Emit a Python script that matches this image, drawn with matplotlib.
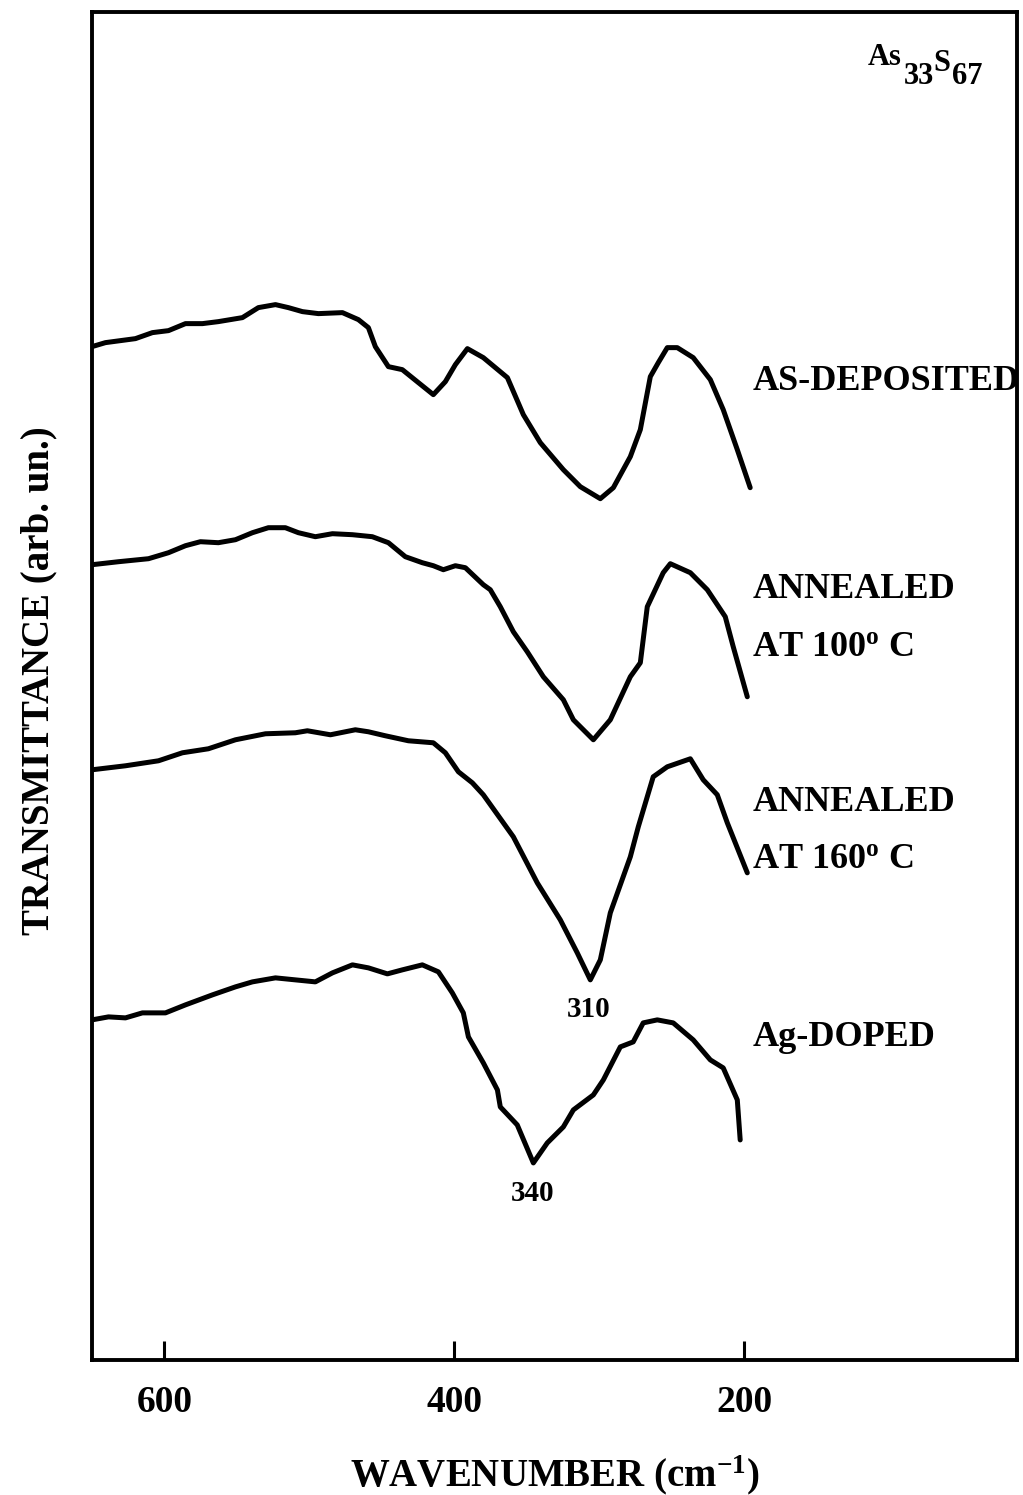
import matplotlib.pyplot as plt

plt.rcParams['font.family'] = 'Liberation Serif'
plt.rcParams['font.weight'] = 'bold'
plt.rcParams['mathtext.fontset'] = 'custom'
plt.rcParams['mathtext.rm'] = 'Liberation Serif:bold'
plt.rcParams['mathtext.it'] = 'Liberation Serif:bold'
plt.rcParams['mathtext.bf'] = 'Liberation Serif:bold'

# IR transmittance spectra of As33S67 films (arbitrary units, offset per sample)
wn_dep = [650, 640.7, 620, 608.3, 597.2, 585.5, 573.8, 562.8, 546.2, 535.2, 523.4, 514.5,
          504.8, 493.8, 477.2, 466.2, 459.3, 454.5, 445.5, 435.9, 424.8, 414.5, 406.2, 399.3,
          391.0, 380.0, 363.4, 352.4, 340.7, 324.8, 313.1, 299.3, 290.3, 278.6, 271.7, 264.8,
          259.3, 253.1, 246.2, 235.2, 223.4, 214.5, 204.8, 195.9]
t_dep = [101.3, 101.7, 102.1, 102.7, 102.9, 103.6, 103.6, 103.8, 104.2, 105.2, 105.5, 105.2,
         104.8, 104.6, 104.7, 104.0, 103.2, 101.3, 99.3, 99.0, 97.7, 96.5, 97.8, 99.5,
         101.1, 100.2, 98.2, 94.5, 91.7, 89.0, 87.3, 86.1, 87.2, 90.3, 93.0, 98.3,
         99.7, 101.2, 101.2, 100.2, 98.0, 95.0, 91.0, 87.2]

wn_100 = [650, 631.7, 611.0, 597.2, 585.5, 575.2, 562.8, 551.0, 539.3, 528.3, 516.6, 507.6,
          495.9, 484.1, 470.3, 456.6, 445.5, 433.8, 422.1, 414.5, 407.6, 399.3, 392.4, 380.0,
          375.2, 368.3, 359.3, 349.7, 338.6, 324.8, 317.9, 304.1, 292.4, 278.6, 271.7, 266.9,
          255.9, 251.0, 237.2, 225.5, 213.1, 207.6, 197.9]
t_100 = [79.5, 79.8, 80.1, 80.7, 81.4, 81.8, 81.7, 82.0, 82.7, 83.2, 83.2, 82.7,
         82.3, 82.6, 82.5, 82.3, 81.7, 80.3, 79.7, 79.4, 79.0, 79.4, 79.2, 77.5,
         77.0, 75.3, 72.8, 70.8, 68.3, 66.0, 64.0, 62.0, 64.0, 68.3, 69.7, 75.3,
         78.7, 79.6, 78.7, 77.0, 74.3, 71.3, 66.3]

wn_160 = [650, 626.9, 604.1, 587.6, 569.7, 551.0, 530.3, 509.7, 501.4, 485.5, 468.3, 459.3,
          447.6, 431.7, 414.5, 406.2, 397.2, 387.6, 380.0, 359.3, 342.8, 326.9, 315.2, 306.2,
          299.3, 292.4, 278.6, 273.1, 262.8, 253.1, 237.2, 228.3, 218.6, 211.7, 197.9]
t_160 = [59.0, 59.4, 59.9, 60.7, 61.1, 62.0, 62.6, 62.7, 62.9, 62.5, 63.0, 62.8,
         62.4, 61.9, 61.7, 60.7, 58.8, 57.7, 56.5, 52.3, 47.7, 44.0, 40.7, 38.0,
         40.0, 44.7, 50.3, 53.3, 58.3, 59.3, 60.1, 58.0, 56.5, 53.7, 48.7]

wn_ag = [650, 638.6, 626.9, 615.2, 599.3, 585.5, 566.9, 551.0, 539.3, 523.4, 509.7, 495.9,
         484.1, 470.3, 459.3, 446.2, 435.9, 422.1, 411.0, 401.4, 393.8, 390.3, 380.0, 370.3,
         368.3, 356.6, 345.5, 335.9, 324.8, 317.9, 304.1, 297.2, 285.5, 276.6, 269.7, 260.0,
         249.0, 235.2, 223.4, 214.5, 204.8, 202.8]
t_ag = [34.0, 34.3, 34.2, 34.7, 34.7, 35.5, 36.5, 37.3, 37.8, 38.2, 38.0, 37.8,
        38.7, 39.5, 39.2, 38.6, 39.0, 39.5, 38.8, 36.7, 34.7, 32.3, 29.7, 27.0,
        25.3, 23.5, 19.7, 21.7, 23.3, 25.0, 26.5, 28.0, 31.3, 31.8, 33.7, 34.0,
        33.7, 32.0, 30.0, 29.2, 26.0, 22.0]

fig = plt.figure(figsize=(10.23, 14.95), dpi=100)
ax = fig.add_axes([0.0899, 0.0903, 0.904, 0.902])

for wn, t in [(wn_dep, t_dep), (wn_100, t_100), (wn_160, t_160), (wn_ag, t_ag)]:
    ax.plot(wn, t, color='black', lw=3.6, solid_joinstyle='round', solid_capstyle='round')

ax.set_xlim(650, 12)
ax.set_ylim(0, 134.8)
ax.set_xticks([600, 400, 200])
ax.set_yticks([])
ax.tick_params(axis='x', direction='in', length=14, width=2.2, labelsize=27, pad=18)
for lbl in ax.get_xticklabels():
    lbl.set_fontweight('bold')
for sp in ax.spines.values():
    sp.set_linewidth(2.8)

# sample labels
lab = dict(fontsize=26, fontweight='bold', va='center', ha='left')
ax.text(194.5, 97.8, 'AS-DEPOSITED', **lab)
ax.text(194.5, 77.0, 'ANNEALED', **lab)
ax.text(194.5, 71.2, r'AT 100$^{\mathrm{o}}$ C', **lab)
ax.text(194.5, 55.7, 'ANNEALED', **lab)
ax.text(194.5, 50.0, r'AT 160$^{\mathrm{o}}$ C', **lab)
ax.text(194.5, 32.2, 'Ag-DOPED', **lab)

# band positions
ax.text(307.6, 35.0, '310', fontsize=21, fontweight='bold', ha='center', va='center')
ax.text(346.2, 16.6, '340', fontsize=21, fontweight='bold', ha='center', va='center')

# composition, written piece by piece so the indices stay full size
comp = dict(fontsize=22, fontweight='bold', ha='left', va='bottom')
t_as = ax.text(114.5, 129.5, 'As', fontsize=22, fontweight='bold', ha='left', va='baseline')
t_33 = ax.annotate('33', xy=(1, 0), xycoords=t_as, xytext=(1, -14),
                   textcoords='offset points', **comp)
t_s = ax.annotate('S', xy=(1, 0), xycoords=t_33, xytext=(0, 9),
                  textcoords='offset points', **comp)
ax.annotate('67', xy=(1, 0), xycoords=t_s, xytext=(1, -9),
            textcoords='offset points', **comp)

ax.set_xlabel(r'WAVENUMBER (cm$^{\mathbf{-1}}$)', fontsize=28, fontweight='bold', va='center')
ax.xaxis.set_label_coords(0.5005, -0.0853)
ax.set_ylabel('TRANSMITTANCE (arb. un.)', fontsize=28, fontweight='bold', va='center')
ax.yaxis.set_label_coords(-0.0570, 0.504)

fig.savefig('out.png', dpi=100)
